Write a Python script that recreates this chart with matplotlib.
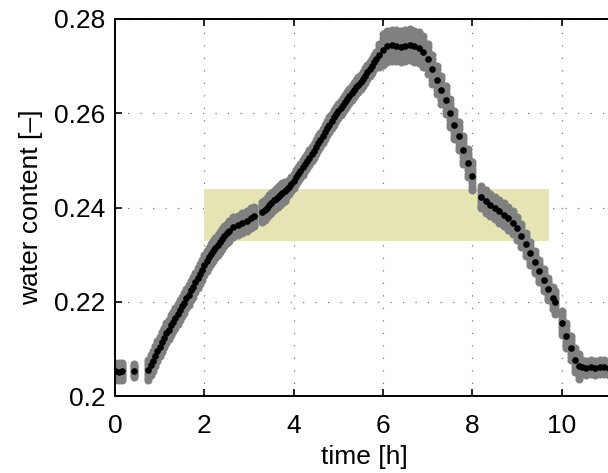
import matplotlib.pyplot as plt
import numpy as np

plt.rcParams['font.family'] = ['Liberation Sans', 'DejaVu Sans']

# time of each averaged sample [h]
time_h = [0.0, 0.08, 0.15,
          0.43,
          0.75, 0.80, 0.85, 0.90, 0.95, 1.00, 1.05, 1.10, 1.15, 1.20,
          1.25, 1.30, 1.35, 1.40, 1.45, 1.50, 1.55, 1.60, 1.65, 1.70,
          1.75, 1.80, 1.85, 1.90, 1.95, 2.00, 2.05, 2.10, 2.15, 2.20,
          2.25, 2.30, 2.35, 2.40, 2.45, 2.50, 2.55,
          2.65, 2.75, 2.85, 2.95, 3.05, 3.12,
          3.30, 3.35, 3.40, 3.45, 3.50, 3.55, 3.60, 3.65, 3.70, 3.75,
          3.80, 3.85, 3.90, 3.95, 4.00, 4.05, 4.10, 4.15, 4.20, 4.25,
          4.30, 4.35, 4.40, 4.45, 4.50, 4.55, 4.60, 4.65, 4.70, 4.75,
          4.80, 4.85, 4.90, 4.95, 5.00, 5.05, 5.10, 5.15, 5.20, 5.25,
          5.30, 5.35, 5.40, 5.45, 5.50, 5.55, 5.60, 5.65, 5.70, 5.75,
          5.80, 5.85, 5.90,
          6.0, 6.1, 6.2, 6.3, 6.4, 6.5, 6.6, 6.7, 6.8, 6.9,
          7.0, 7.1, 7.2, 7.3, 7.4, 7.5, 7.6, 7.7, 7.8, 7.9, 8.0,
          8.2, 8.3, 8.4, 8.5, 8.6, 8.7, 8.8, 8.9, 9.0, 9.1,
          9.2, 9.3, 9.4, 9.5, 9.6, 9.7, 9.8, 9.85,
          10.0, 10.1, 10.2, 10.3, 10.38, 10.45, 10.55, 10.65, 10.75, 10.85,
          10.95, 11.05, 11.15]

# mean water content (black dots)
theta = [0.2052, 0.2051, 0.2052,
         0.2054,
         0.2055, 0.2065, 0.2075, 0.2085, 0.2095, 0.2105, 0.2114, 0.2124, 0.2133, 0.2141,
         0.2150, 0.2158, 0.2166, 0.2174, 0.2182, 0.2190, 0.2198, 0.2207, 0.2215, 0.2224,
         0.2232, 0.2241, 0.2250, 0.2259, 0.2268, 0.2278, 0.2287, 0.2294, 0.2301, 0.2308,
         0.2314, 0.2321, 0.2327, 0.2333, 0.2339, 0.2345, 0.2350,
         0.2358, 0.2362, 0.2367, 0.2372, 0.2378, 0.2381,
         0.2390, 0.2395, 0.2400, 0.2405, 0.2410, 0.2415, 0.2419, 0.2423, 0.2426, 0.2430,
         0.2434, 0.2439, 0.2444, 0.2450, 0.2457, 0.2464, 0.2471, 0.2478, 0.2485, 0.2492,
         0.2499, 0.2506, 0.2513, 0.2520, 0.2528, 0.2536, 0.2544, 0.2552, 0.2560, 0.2568,
         0.2576, 0.2584, 0.2591, 0.2598, 0.2604, 0.2611, 0.2617, 0.2624, 0.2630, 0.2637,
         0.2643, 0.2649, 0.2655, 0.2661, 0.2667, 0.2673, 0.2680, 0.2687, 0.2694, 0.2701,
         0.2709, 0.2716, 0.2723,
         0.2735, 0.2742, 0.2744, 0.2743, 0.2741, 0.2743, 0.2745, 0.2742, 0.2739, 0.2731,
         0.2716, 0.2693, 0.2671, 0.2650, 0.2628, 0.2600, 0.2575, 0.2551, 0.2522, 0.2494,
         0.2467,
         0.2422, 0.2413, 0.2405, 0.2399, 0.2392, 0.2385, 0.2377, 0.2368, 0.2356, 0.2340,
         0.2322, 0.2303, 0.2284, 0.2265, 0.2246, 0.2227, 0.2208, 0.2199,
         0.2155, 0.2128, 0.2102, 0.2076, 0.2063, 0.2061, 0.2060, 0.2061, 0.2060, 0.2061,
         0.2061, 0.2060, 0.2061]

# half range of the single measurements around the mean (grey cloud)
spread = [0.0018, 0.0018, 0.0018,
          0.0013,
          0.0021, 0.0021, 0.0021, 0.0021, 0.0021, 0.0021, 0.0021, 0.0021, 0.0021, 0.0021,
          0.0021, 0.0021, 0.0021, 0.0021, 0.0021, 0.0021, 0.0021, 0.0021, 0.0021, 0.0021,
          0.0021, 0.0021, 0.0021, 0.0021, 0.0021, 0.0021, 0.0021, 0.0021, 0.0021, 0.0021,
          0.0021, 0.0021, 0.0021, 0.0021, 0.0021, 0.0021, 0.0021,
          0.0021, 0.0021, 0.0021, 0.0021, 0.0021, 0.0021,
          0.0021, 0.0021, 0.0021, 0.0021, 0.0021, 0.0021, 0.0021, 0.0021, 0.0021, 0.0021,
          0.0021, 0.0015, 0.0015, 0.0015, 0.0015, 0.0015, 0.0015, 0.0015, 0.0015, 0.0015,
          0.0015, 0.0015, 0.0015, 0.0015, 0.0015, 0.0015, 0.0015, 0.0015, 0.0015, 0.0015,
          0.0015, 0.0015, 0.0015, 0.0015, 0.0015, 0.0015, 0.0015, 0.0015, 0.0015, 0.0015,
          0.0015, 0.0015, 0.0015, 0.0015, 0.0015, 0.0015, 0.0015, 0.0015, 0.0015, 0.0015,
          0.0015, 0.0015, 0.0025,
          0.0033, 0.0033, 0.0033, 0.0033, 0.0033, 0.0033, 0.0033, 0.0033, 0.0033, 0.0033,
          0.0032, 0.0030, 0.0030, 0.0030, 0.0030, 0.0030, 0.0030, 0.0030, 0.0030, 0.0030,
          0.0030,
          0.0024, 0.0024, 0.0024, 0.0024, 0.0024, 0.0024, 0.0024, 0.0024, 0.0024, 0.0024,
          0.0024, 0.0024, 0.0024, 0.0024, 0.0024, 0.0024, 0.0024, 0.0024,
          0.0026, 0.0026, 0.0026, 0.0026, 0.0026, 0.0015, 0.0015, 0.0015, 0.0015, 0.0015,
          0.0015, 0.0015, 0.0015]

# shaded band
band_time = [2.0, 9.72]
band_theta = [0.2329, 0.2439]

t = np.array(time_h)
th = np.array(theta)
sp = np.array(spread)

fig = plt.figure(figsize=(6.08, 4.73), dpi=100)
ax = fig.add_axes([115 / 608, 77 / 473, 498 / 608, 377 / 473])

ax.fill_between(band_time, band_theta[0], band_theta[1], color='#e4e4b4',
                lw=0, zorder=1)

# grey cloud of the single measurements
for k in np.linspace(-1, 1, 9):
    ax.plot(t, th + k * sp, 'o', color='#808080', ms=5.8, mec='none', zorder=2)
# mean values
ax.plot(t, th, 'o', color='black', ms=4.8, mec='none', zorder=3)

ax.set_xlim(0, 11.15)
ax.set_ylim(0.2, 0.28)
ax.set_xticks([0, 2, 4, 6, 8, 10])
ax.set_yticks([0.2, 0.22, 0.24, 0.26, 0.28])
ax.set_yticklabels(['0.2', '0.22', '0.24', '0.26', '0.28'])

ax.set_axisbelow(True)
ax.grid(True, linestyle=(0, (1, 9)), color='#777777', lw=0.9)

for s in ax.spines.values():
    s.set_linewidth(1.4)
ax.spines['right'].set_visible(False)

ax.tick_params(direction='in', length=5, width=1.2, top=True, right=False,
               labelsize=19)
ax.tick_params(axis='x', pad=13)
ax.tick_params(axis='y', pad=7)

ax.set_xlabel('time [h]', fontsize=19, labelpad=5)
ax.set_ylabel('water content [–]', fontsize=19, labelpad=8)

fig.savefig('out.png', dpi=100)
